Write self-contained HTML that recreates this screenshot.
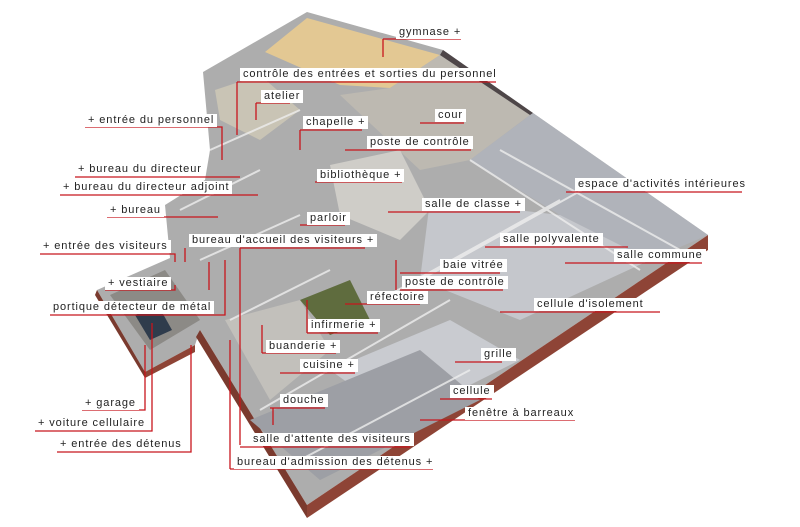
<!DOCTYPE html>
<html><head><meta charset="utf-8"><style>
body{margin:0;width:800px;height:527px;background:#fff;position:relative;overflow:hidden;font-family:"Liberation Sans","DejaVu Sans",sans-serif}
svg{position:absolute;left:0;top:0}
.l{position:absolute;font-size:11px;letter-spacing:0.9px;color:#222;background:#fff;padding:0 3px;line-height:13px;white-space:nowrap}
</style></head><body>
<svg width="800" height="527" viewBox="0 0 800 527">
<polygon points="203,72 307,12 443,50 533,113 708,235 307,505 200,330 195,345 145,372 97,290 170,258 165,205 205,180 210,150" fill="#adadad"/>
<polygon points="708,235 708,250 307,518 307,505" fill="#8e4436"/>
<polygon points="200,330 307,505 307,518 196,337" fill="#7a3a2e"/>
<polygon points="97,290 145,372 145,378 95,295" fill="#7a3a2e"/>
<polygon points="145,372 195,345 195,352 145,378" fill="#8e4436"/>
<polygon points="265,52 307,18 440,55 390,88 340,85" fill="#e3c893"/>
<polygon points="340,95 390,88 440,55 530,115 470,160 420,170" fill="#bdb9b1"/>
<polygon points="440,55 530,115 533,113 443,50" fill="#4e4648"/>
<polygon points="215,90 260,75 300,110 260,140 220,120" fill="#c9c4b5"/>
<polygon points="470,160 533,113 708,235 650,260 560,215" fill="#b0b3ba"/>
<polygon points="430,200 560,215 650,260 520,320 420,280" fill="#c5c7cc"/>
<polygon points="330,165 400,150 430,210 400,240 340,215" fill="#cfcdc8"/>
<polygon points="300,300 350,280 370,320 330,335" fill="#5f6c3e"/>
<polygon points="225,320 300,300 330,350 270,400" fill="#c2c0bb"/>
<polygon points="330,370 450,320 520,360 400,420" fill="#c9cbd0"/>
<polygon points="250,420 420,350 480,400 320,480" fill="#9d9fa5"/>
<polygon points="110,295 165,270 200,320 150,350" fill="#8c8a86"/>
<polygon points="135,315 158,305 172,330 150,340" fill="#2f3c4c"/>
<g stroke="#eeeeee" stroke-width="2" fill="none" opacity="0.8">
<path d="M470,160L640,270M500,150L680,250M420,280L600,180M380,300L560,200M260,410L450,300M300,460L470,370"/>
<path d="M210,150L300,110M180,210L260,170M200,260L300,215M230,320L330,270"/>
</g>
<g stroke="#c8161d" stroke-width="1.3" fill="none">
<path d="M383,39H461M383,39V57"/>
<path d="M237,82H496M237,82V135"/>
<path d="M256,103H290M256,103V120"/>
<path d="M420,123H464"/>
<path d="M300,130H362M300,130V150"/>
<path d="M85,127H222V160"/>
<path d="M345,150H471"/>
<path d="M75,177H240"/>
<path d="M315,182H402"/>
<path d="M566,192H742"/>
<path d="M60,195H258"/>
<path d="M388,212H520"/>
<path d="M107,217H218"/>
<path d="M300,225H345"/>
<path d="M40,254H175V262"/>
<path d="M240,248H365M240,248V445M185,248V262"/>
<path d="M485,247H628"/>
<path d="M565,263H702"/>
<path d="M400,273H500"/>
<path d="M105,290H175V285M209,290V262"/>
<path d="M400,290H503M396,260V290"/>
<path d="M50,315H225V260"/>
<path d="M500,312H660"/>
<path d="M345,304H420"/>
<path d="M307,333H378M307,333V300"/>
<path d="M262,353H336M262,353V325"/>
<path d="M455,362H502"/>
<path d="M280,373H355"/>
<path d="M440,399H492"/>
<path d="M82,410H145V345"/>
<path d="M270,408H325M273,408V425"/>
<path d="M420,420H575"/>
<path d="M35,431H152V323"/>
<path d="M240,447H410"/>
<path d="M57,452H191V345"/>
<path d="M230,469H433M230,469V340"/>
</g>
</svg>
<div class="l" style="left:396px;top:26px">gymnase +</div>
<div class="l" style="left:240px;top:68px">contrôle des entrées et sorties du personnel</div>
<div class="l" style="left:261px;top:90px">atelier</div>
<div class="l" style="left:435px;top:109px">cour</div>
<div class="l" style="left:303px;top:116px">chapelle +</div>
<div class="l" style="left:85px;top:114px">+ entrée du personnel</div>
<div class="l" style="left:367px;top:136px">poste de contrôle</div>
<div class="l" style="left:75px;top:163px">+ bureau du directeur</div>
<div class="l" style="left:317px;top:169px">bibliothèque +</div>
<div class="l" style="left:575px;top:178px">espace d'activités intérieures</div>
<div class="l" style="left:60px;top:181px">+ bureau du directeur adjoint</div>
<div class="l" style="left:422px;top:198px">salle de classe +</div>
<div class="l" style="left:107px;top:204px">+ bureau</div>
<div class="l" style="left:307px;top:212px">parloir</div>
<div class="l" style="left:40px;top:240px">+ entrée des visiteurs</div>
<div class="l" style="left:189px;top:234px">bureau d'accueil des visiteurs +</div>
<div class="l" style="left:500px;top:233px">salle polyvalente</div>
<div class="l" style="left:614px;top:249px">salle commune</div>
<div class="l" style="left:440px;top:259px">baie vitrée</div>
<div class="l" style="left:105px;top:277px">+ vestiaire</div>
<div class="l" style="left:402px;top:276px">poste de contrôle</div>
<div class="l" style="left:50px;top:301px">portique détecteur de métal</div>
<div class="l" style="left:534px;top:298px">cellule d'isolement</div>
<div class="l" style="left:367px;top:291px">réfectoire</div>
<div class="l" style="left:308px;top:319px">infirmerie +</div>
<div class="l" style="left:266px;top:340px">buanderie +</div>
<div class="l" style="left:481px;top:348px">grille</div>
<div class="l" style="left:300px;top:359px">cuisine +</div>
<div class="l" style="left:450px;top:385px">cellule</div>
<div class="l" style="left:82px;top:397px">+ garage</div>
<div class="l" style="left:280px;top:394px">douche</div>
<div class="l" style="left:465px;top:407px">fenêtre à barreaux</div>
<div class="l" style="left:35px;top:417px">+ voiture cellulaire</div>
<div class="l" style="left:250px;top:433px">salle d'attente des visiteurs</div>
<div class="l" style="left:57px;top:438px">+ entrée des détenus</div>
<div class="l" style="left:234px;top:456px">bureau d'admission des détenus +</div>
</body></html>
